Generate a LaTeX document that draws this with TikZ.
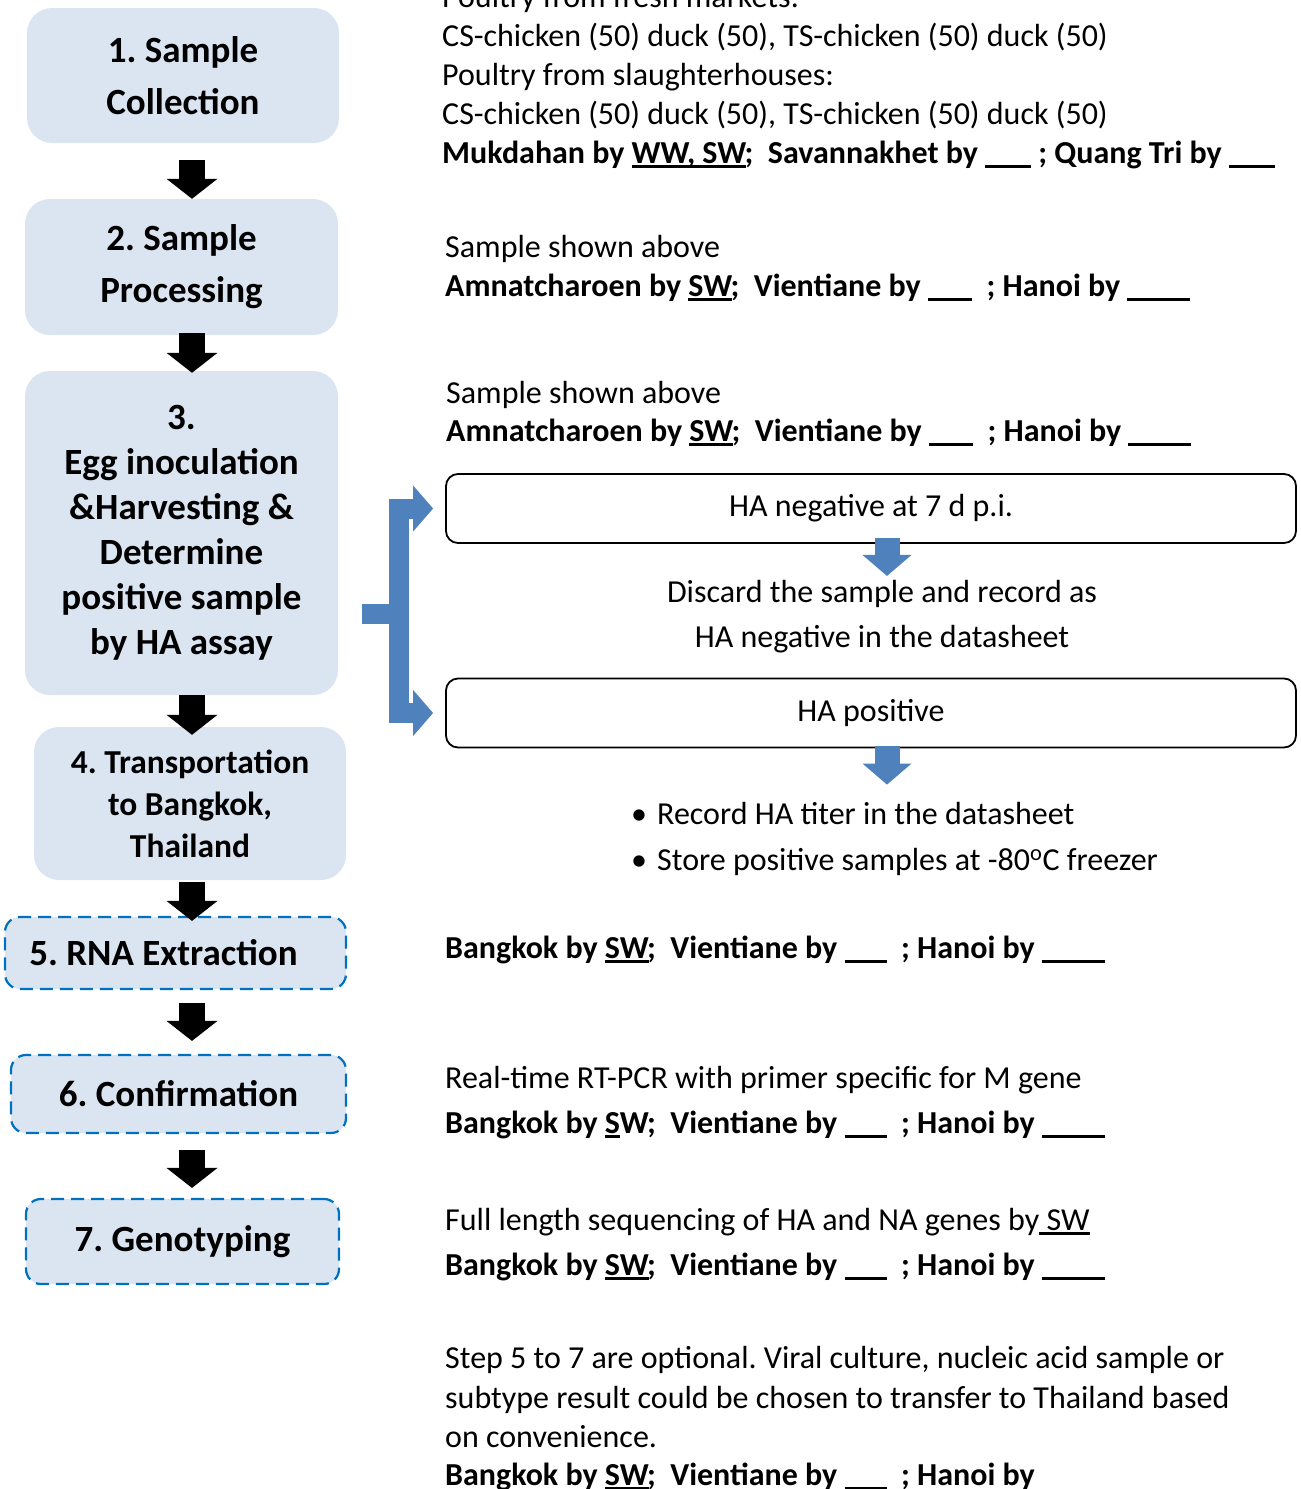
\documentclass[tikz,border=0pt]{standalone}
\usepackage{fontspec}
\setmainfont{Carlito}
\usepackage{tikz}
\usetikzlibrary{positioning,arrows.meta,calc}
\definecolor{stepfill}{HTML}{DBE5F1}
\definecolor{optblue}{HTML}{0070C0}
\definecolor{flowblue}{HTML}{4F81BD}
\newlength{\ulwd}
\newcommand{\ulin}[1]{\settowidth{\ulwd}{#1}\rlap{\rule[-4.5pt]{\ulwd}{2.2pt}}#1}
\newcommand{\blank}[1]{\rule[-4.5pt]{#1}{2.2pt}}
\frenchspacing

\begin{document}
\begin{tikzpicture}[
    x=1pt, y=-1pt,
    stepbox/.style={
        rectangle, fill=stepfill, rounded corners=25pt,
        inner sep=0pt, align=center,
        font=\fontsize{37}{45}\selectfont\bfseries
    },
    optbox/.style={
        stepbox, draw=optblue, line width=2.2pt, rounded corners=15pt,
        dash pattern=on 13pt off 7pt
    },
    habox/.style={
        rectangle, draw=black, line width=1.8pt, rounded corners=12pt,
        minimum width=850pt, minimum height=69pt,
        font=\fontsize{32}{39}\selectfont
    },
    txt/.style={anchor=base west, inner sep=0pt, font=\fontsize{32}{39}\selectfont},
    btxt/.style={txt, font=\fontsize{32}{39}\selectfont\bfseries},
    blk/.style={line width=26pt,
        -{Triangle[length=20pt 0 0, width=51pt 0 0, line width=0pt]}},
    barr/.style={flowblue, line width=25pt,
        -{Triangle[length=21pt 0 0, width=49pt 0 0, line width=0pt]}},
    forkarr/.style={flowblue, line width=20pt,
        -{Triangle[length=20pt 0 0, width=46pt 0 0, line width=0pt]}},
]
\useasboundingbox (0,0) rectangle (1301,1489);

% ── Left column: steps ──
\node[stepbox, minimum width=312pt, minimum height=135pt]
    (s1) at (183,75.5) {1. Sample\\[7pt]Collection};
\node[stepbox, minimum width=313pt, minimum height=136pt]
    (s2) at (181.5,267) {2. Sample\\[7pt]Processing};
\node[stepbox, minimum width=313pt, minimum height=324pt]
    (s3) at (181.5,533)
    {3.\\Egg inoculation\\\&Harvesting \&\\Determine\\positive sample\\by HA assay};
\node[stepbox, minimum width=312pt, minimum height=153pt,
      font=\fontsize{33.5}{42}\selectfont\bfseries]
    (s4) at (190,803.5) {4. Transportation\\to Bangkok,\\Thailand};
\node[optbox, minimum width=341pt, minimum height=72pt]
    (s5) at (175.5,953) {5. RNA Extraction\hspace*{24pt}};
\node[optbox, minimum width=335pt, minimum height=78pt]
    (s6) at (178.5,1094) {6. Confirmation};
\node[optbox, minimum width=313pt, minimum height=85pt]
    (s7) at (182.5,1241.5) {7. Genotyping};

\coordinate (ax) at (192,0);
\draw[blk, shorten <=17pt] (s1.south -| ax) -- (s2.north -| ax);
\draw[blk, shorten <=-2pt, shorten >=-2pt] (s2.south -| ax) -- (s3.north -| ax);
\draw[blk, shorten >=-8pt] (s3.south -| ax) -- (s4.north -| ax);
\draw[blk, shorten <=2pt, shorten >=-5pt] (s4.south -| ax) -- (s5.north -| ax);
\draw[blk, shorten <=13pt, shorten >=13pt] (s5.south -| ax) -- (s6.north -| ax);
\draw[blk, shorten <=16pt, shorten >=10pt] (s6.south -| ax) -- (s7.north -| ax);

% ── Step 1 / 2 / 3 notes ──
\node[txt] (mkt)  at (442,7)   {Poultry from fresh markets:};
\node[txt] (mkt1) at (442,46)  {CS-chicken (50) duck (50), TS-chicken (50) duck (50)};
\node[txt] (slh)  at (442,85)  {Poultry from slaughterhouses:};
\node[txt] (slh1) at (442,124) {CS-chicken (50) duck (50), TS-chicken (50) duck (50)};
\node[btxt] (who1) at (442,163)
    {Mukdahan by \ulin{WW, SW};\ \ Savannakhet by \blank{46pt} ; Quang Tri by \blank{46pt}};

\node[txt] (proc) at (445,257) {Sample shown above};
\node[btxt] (who2) at (445,296)
    {Amnatcharoen by \ulin{SW};\ \ Vientiane by \blank{44pt}\ \ ; Hanoi by \blank{63pt}};

\node[txt] (egg) at (446,403) {Sample shown above};
\node[btxt] (who3) at (446,441)
    {Amnatcharoen by \ulin{SW};\ \ Vientiane by \blank{44pt}\ \ ; Hanoi by \blank{63pt}};

% ── HA result branch ──
\node[habox] (hneg) at (871,508.5) {HA negative at 7 d p.i.};
\node[align=center, inner sep=0pt, font=\fontsize{32}{45}\selectfont]
    (disc) at (882,616.5) {Discard the sample and record as\\HA negative in the datasheet};
\node[habox] (hpos) at (871,713) {HA positive};
\node[txt] (bul1) at (631,824)
    {\makebox[26pt][l]{\textbullet}Record HA titer in the datasheet};
\node[txt] (bul2) at (631,870)
    {\makebox[26pt][l]{\textbullet}Store positive samples at -80\textsuperscript{o}C freezer};

\coordinate (split) at (362,613.5);
\coordinate (bar) at (399,0);
\draw[forkarr, shorten >=12pt] (split) -- (split -| bar) -- (bar |- hneg.west) -- (hneg.west);
\draw[forkarr, shorten >=12pt] (split) -- (split -| bar) -- (bar |- hpos.west) -- (hpos.west);

\coordinate (bx) at (887,0);
\draw[barr, shorten <=-6pt, shorten >=4pt] (hneg.south -| bx) -- (disc.north -| bx);
\draw[barr, shorten <=-2pt, shorten >=17pt] (hpos.south -| bx) -- (bul1.north -| bx);

% ── Steps 4 to 7 notes ──
\node[btxt] (who5) at (445,958)
    {Bangkok by \ulin{SW};\ \ Vientiane by \blank{42pt}\ \ ; Hanoi by \blank{63pt}};

\node[txt] (conf) at (445,1088) {Real-time RT-PCR with primer specific for M gene};
\node[btxt] (who6) at (445,1133)
    {Bangkok by \ulin{S}W;\ \ Vientiane by \blank{42pt}\ \ ; Hanoi by \blank{63pt}};

\node[txt] (geno) at (445,1230) {Full length sequencing of HA and NA genes by\ulin{\ SW}};
\node[btxt] (who7) at (445,1275)
    {Bangkok by \ulin{SW};\ \ Vientiane by \blank{42pt}\ \ ; Hanoi by \blank{63pt}};

\node[txt] (opt1) at (445,1368) {Step 5 to 7 are optional. Viral culture, nucleic acid sample or};
\node[txt] (opt2) at (445,1408) {subtype result could be chosen to transfer to Thailand based};
\node[txt] (opt3) at (445,1447) {on convenience.};
\node[btxt] (opt4) at (445,1485)
    {Bangkok by \ulin{SW};\ \ Vientiane by \blank{42pt}\ \ ; Hanoi by};

\end{tikzpicture}
\end{document}
